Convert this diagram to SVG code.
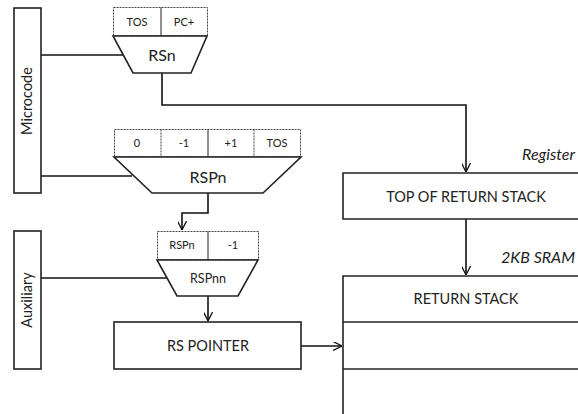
<svg xmlns="http://www.w3.org/2000/svg" width="578" height="414" viewBox="0 0 578 414">
  <style>
    text { font-family: Lato, "Open Sans", "Liberation Sans", sans-serif; fill: #222; text-anchor: middle; }
    .box { fill: #fff; stroke: #222; stroke-width: 1.6; }
    .mux { fill: #fff; stroke: #222; stroke-width: 1.6; }
    .cells { fill: #fff; stroke: #444; stroke-width: 1; stroke-dasharray: 2 1; }
    .div { stroke: #222; stroke-width: 1; }
    .divd { stroke: #444; stroke-width: 1; stroke-dasharray: 2 1; }
    .wire { fill: none; stroke: #111; stroke-width: 1.6; }
    .small { font-size: 11px; }
    .mid { font-size: 14.5px; }
    .big { font-size: 16px; }
    .note { font-size: 16px; font-style: italic; text-anchor: end; }
  </style>
  <defs>
    <marker id="vee" viewBox="0 0 10 10" refX="10" refY="5" markerWidth="9" markerHeight="9" markerUnits="userSpaceOnUse" orient="auto">
      <path d="M0,0 L10,5 L0,10" fill="none" stroke="#111" stroke-width="1.4"/>
    </marker>
  </defs>

  <!-- connectors -->
  <g id="connectors">
    <path class="wire" d="M41,55 H123"/>
    <path class="wire" d="M41,176 H132"/>
    <path class="wire" d="M41,278 H167"/>
    <path class="wire" d="M162,73 V105 H466 V172" marker-end="url(#vee)"/>
    <path class="wire" d="M208,193 V213 H182 V230" marker-end="url(#vee)"/>
    <path class="wire" d="M208,296 V321" marker-end="url(#vee)"/>
    <path class="wire" d="M301,346 H342" marker-end="url(#vee)"/>
    <path class="wire" d="M466,219 V275" marker-end="url(#vee)"/>
  </g>

  <!-- control sources -->
  <g id="microcode">
    <rect class="box" x="14" y="8" width="27" height="185"/>
    <text class="mid" transform="translate(32,101) rotate(-90)">Microcode</text>
  </g>
  <g id="auxiliary">
    <rect class="box" x="14" y="231" width="27" height="138"/>
    <text class="mid" transform="translate(32,300) rotate(-90)">Auxiliary</text>
  </g>

  <!-- RSn selector -->
  <g id="rsn">
    <rect class="cells" x="113.5" y="7.5" width="94" height="28"/>
    <line class="div" x1="161" y1="7.5" x2="161" y2="35.5"/>
    <text class="small" x="137" y="26">TOS</text>
    <text class="small" x="184" y="26">PC+</text>
    <path class="mux" d="M113,36 H207 L191,73 H133 Z"/>
    <text class="big" x="162" y="61">RSn</text>
  </g>

  <!-- RSPn selector -->
  <g id="rspn">
    <rect class="cells" x="114.5" y="129.5" width="186" height="27"/>
    <line class="divd" x1="161" y1="129.5" x2="161" y2="156.5"/>
    <line class="div" x1="208" y1="129.5" x2="208" y2="156.5"/>
    <line class="divd" x1="254" y1="129.5" x2="254" y2="156.5"/>
    <text class="small" x="137" y="147">0</text>
    <text class="small" x="184" y="147">-1</text>
    <text class="small" x="231" y="147">+1</text>
    <text class="small" x="277" y="147">TOS</text>
    <path class="mux" d="M114,157 H301 L263,193 H152 Z"/>
    <text class="big" x="208" y="183">RSPn</text>
  </g>

  <!-- RSPnn selector -->
  <g id="rspnn">
    <rect class="cells" x="157.5" y="231.5" width="101" height="28"/>
    <line class="div" x1="208" y1="231.5" x2="208" y2="259.5"/>
    <text class="small" x="182" y="249">RSPn</text>
    <text class="small" x="233" y="249">-1</text>
    <path class="mux" d="M157,260 H258 L238,296 H177 Z"/>
    <text x="208" y="283" style="font-size:12.5px">RSPnn</text>
  </g>

  <!-- RS pointer register -->
  <g id="rs-pointer">
    <rect class="box" x="114" y="322" width="187" height="47"/>
    <text class="mid" x="208" y="351">RS POINTER</text>
  </g>

  <!-- top of return stack register -->
  <g id="tors">
    <text class="note" x="575" y="160">Register</text>
    <path class="box" d="M580,173 H343 V219 H580"/>
    <text class="mid" x="466" y="202">TOP OF RETURN STACK</text>
  </g>

  <!-- return stack memory -->
  <g id="return-stack">
    <text class="note" x="575" y="263">2KB SRAM</text>
    <path class="box" d="M580,276 H343 V416"/>
    <line class="box" x1="343" y1="322" x2="580" y2="322"/>
    <line class="box" x1="343" y1="369" x2="580" y2="369"/>
    <text class="mid" x="466" y="304">RETURN STACK</text>
  </g>
</svg>
